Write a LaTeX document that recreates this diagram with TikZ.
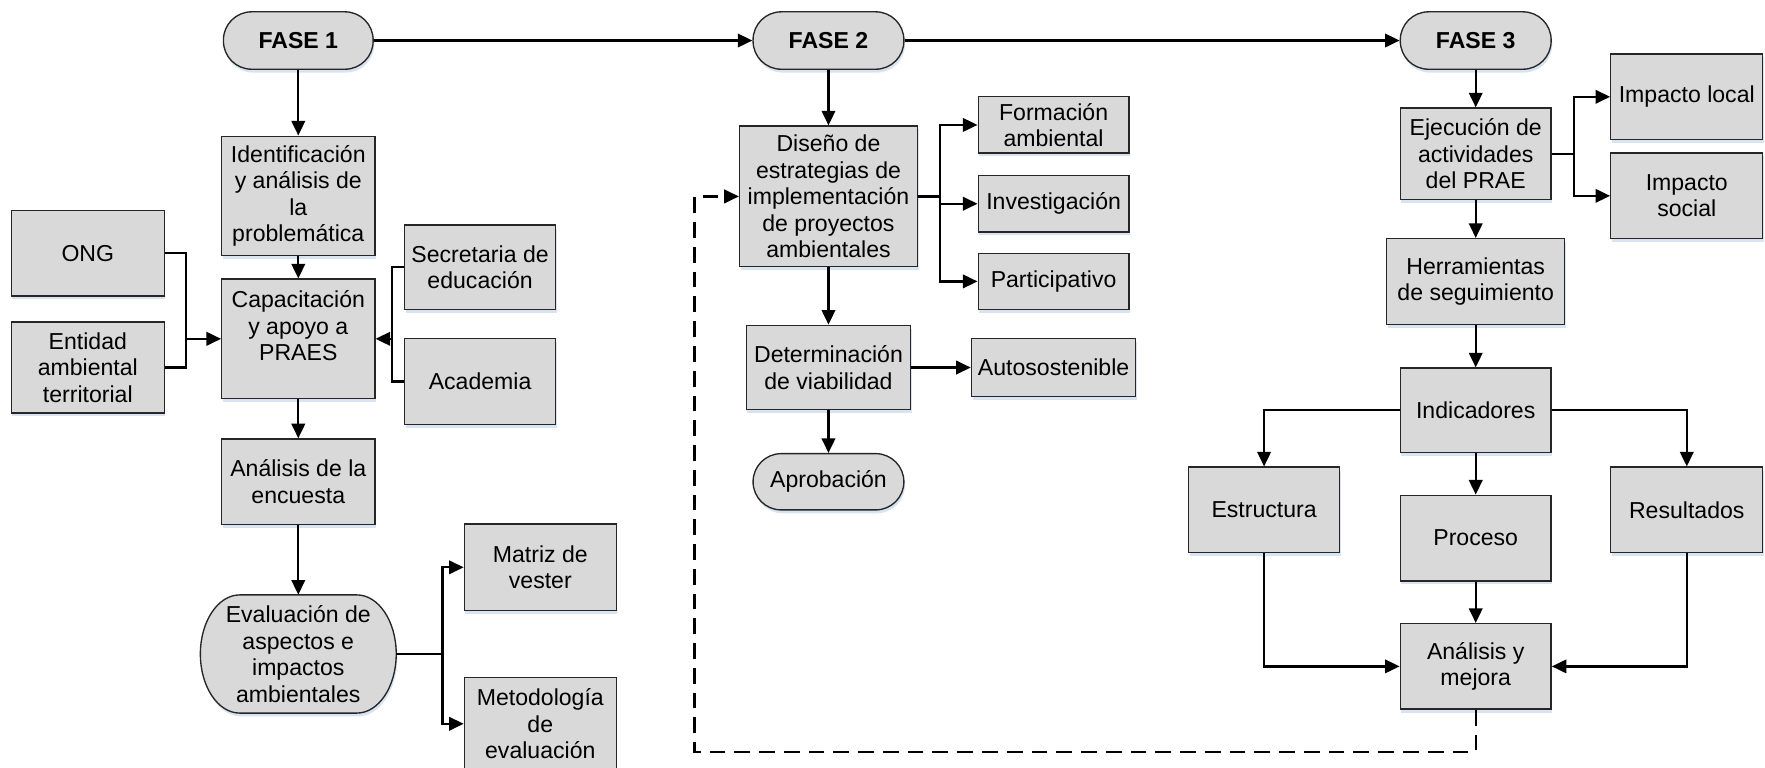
\documentclass[tikz,border=0pt]{standalone}
\usepackage{fontspec}
\setmainfont{Liberation Sans}
\usetikzlibrary{arrows.meta,shadows}
\definecolor{boxgray}{HTML}{D9D9D9}
\definecolor{shadowblue}{HTML}{C9D9EE}
\newcommand{\boxfont}{\fontsize{20.5pt}{23.5pt}\selectfont}
\tikzset{
  shad/.style={drop shadow={shadow xshift=1pt, shadow yshift=-3pt, fill=shadowblue, opacity=0.7}},
  box/.style={draw=black!85, line width=1.2pt, fill=boxgray, align=center, inner sep=0pt, font=\boxfont, shad},
  pill/.style={box, rounded corners=25pt},
  txt/.style={align=center, inner sep=0pt, font=\boxfont},
  conn/.style={line width=2pt, -{Triangle[length=13pt,width=12pt]}},
  plain/.style={line width=2pt},
  dashconn/.style={line width=2pt, dash pattern=on 14pt off 8pt, -{Triangle[length=13pt,width=12pt]}}
}
\begin{document}
\begin{tikzpicture}[x=1pt,y=-1pt]
\useasboundingbox (0,0) rectangle (1568,682);
% ---------- FASE 1 ----------
\node[pill, minimum width=133pt, minimum height=51pt, font=\boxfont\bfseries] (f1) at (265,36) {FASE 1};
\node[box, minimum width=136pt, minimum height=106pt] (ident) at (265,174) {Identificación\\y análisis de\\la\\problemática};
\node[box, minimum width=136pt, minimum height=76pt] (ong) at (78,225) {ONG};
\node[box, minimum width=136pt, minimum height=81pt] (ent) at (78,326.5) {Entidad\\ambiental\\territorial};
\node[box, minimum width=136pt, minimum height=106pt] (cap) at (265,301) {Capacitación\\y apoyo a\\PRAES\\\mbox{}};
\node[box, minimum width=134pt, minimum height=75pt] (sec) at (426.5,237.5) {Secretaria de\\educación};
\node[box, minimum width=134pt, minimum height=76pt] (acad) at (426.5,339) {Academia};
\node[box, minimum width=136pt, minimum height=76pt] (enc) at (265,428) {Análisis de la\\encuesta};
\filldraw[draw=black!85, line width=1.2pt, fill=boxgray, shad]
  (213,528.5) -- (317,528.5) arc[start angle=90,end angle=-90,x radius=35pt,y radius=52.5pt]
  -- (213,633.5) arc[start angle=270,end angle=90,x radius=35pt,y radius=52.5pt] -- cycle;
\node[txt, minimum width=174pt, minimum height=105pt] (eval) at (265,581) {Evaluación de\\aspectos e\\impactos\\ambientales};
\node[box, minimum width=135pt, minimum height=77pt] (mat) at (480,504) {Matriz de\\vester};
\node[box, minimum width=135pt, minimum height=82pt] (met) at (480,643) {Metodología\\de\\evaluación};
% ---------- FASE 2 ----------
\node[pill, minimum width=134pt, minimum height=51pt, font=\boxfont\bfseries] (f2) at (736,36) {FASE 2};
\node[box, minimum width=158pt, minimum height=125pt] (dis) at (736,174.5) {Diseño de\\estrategias de\\implementación\\de proyectos\\ambientales};
\node[box, minimum width=134pt, minimum height=50pt] (form) at (936,111) {Formación\\ambiental};
\node[box, minimum width=134pt, minimum height=50pt] (inv) at (936,181) {Investigación};
\node[box, minimum width=134pt, minimum height=50pt] (part) at (936,250) {Participativo};
\node[box, minimum width=146pt, minimum height=75pt] (det) at (736,326.5) {Determinación\\de viabilidad};
\node[box, minimum width=146pt, minimum height=51pt] (auto) at (936,326.5) {Autosostenible};
\node[pill, minimum width=134pt, minimum height=50pt] (apr) at (736,428) {Aprobación};
% ---------- FASE 3 ----------
\node[pill, minimum width=134pt, minimum height=51pt, font=\boxfont\bfseries] (f3) at (1311,36) {FASE 3};
\node[box, minimum width=134pt, minimum height=81pt] (eje) at (1311,136.5) {Ejecución de\\actividades\\del PRAE};
\node[box, minimum width=135pt, minimum height=76pt] (iloc) at (1498.5,86) {Impacto local};
\node[box, minimum width=135pt, minimum height=76pt] (isoc) at (1498.5,174) {Impacto\\social};
\node[box, minimum width=158pt, minimum height=76pt] (her) at (1311,250) {Herramientas\\de seguimiento};
\node[box, minimum width=134pt, minimum height=75pt] (ind) at (1311,364.5) {Indicadores};
\node[box, minimum width=134pt, minimum height=76pt] (est) at (1123,453) {Estructura};
\node[box, minimum width=134pt, minimum height=76pt] (pro) at (1311,478) {Proceso};
\node[box, minimum width=135pt, minimum height=76pt] (res) at (1498.5,453) {Resultados};
\node[box, minimum width=134pt, minimum height=76pt] (ana) at (1311,592) {Análisis y\\mejora};
% junctions
\coordinate (j1) at (165,301);
\coordinate (j2) at (348,301);
\coordinate (j3) at (393,581);
\coordinate (j4) at (835,174.5);
\coordinate (j5) at (1398,136.5);
\coordinate (dl) at (617,668);
% ---------- connectors ----------
\draw[conn] (f1.east) -- (f2.west);
\draw[conn] (f2.east) -- (f3.west);
\draw[conn] (f1.south) -- (ident.north);
\draw[conn] (ident.south) -- (cap.north);
\draw[conn] (cap.south) -- (enc.north);
\draw[conn] (enc.south) -- (eval.north);
\draw[plain] (ong.east) -| (j1) |- (ent.east);
\draw[conn] (j1) -- (cap.west);
\draw[plain] (sec.west) -| (j2) |- (acad.west);
\draw[conn] (j2) -- (cap.east);
\draw[plain] (eval.east) -- (j3);
\draw[conn] (j3) |- (mat.west);
\draw[conn] (j3) |- (met.west);
\draw[conn] (f2.south) -- (dis.north);
\draw[plain] (dis.east) -- (j4);
\draw[conn] (j4) |- (form.west);
\draw[conn] (j4) |- (inv.west);
\draw[conn] (j4) |- (part.west);
\draw[conn] (dis.south) -- (det.north);
\draw[conn] (det.east) -- (auto.west);
\draw[conn] (det.south) -- (apr.north);
\draw[conn] (f3.south) -- (eje.north);
\draw[plain] (eje.east) -- (j5);
\draw[conn] (j5) |- (iloc.west);
\draw[conn] (j5) |- (isoc.west);
\draw[conn] (eje.south) -- (her.north);
\draw[conn] (her.south) -- (ind.north);
\draw[conn] (ind.south) -- (pro.north);
\draw[conn] (pro.south) -- (ana.north);
\draw[conn] (ind.west) -| (est.north);
\draw[conn] (ind.east) -| (res.north);
\draw[conn] (est.south) |- (ana.west);
\draw[conn] (res.south) |- (ana.east);
\draw[dashconn] (ana.south) |- (dl) |- (dis.west);
\end{tikzpicture}
\end{document}
